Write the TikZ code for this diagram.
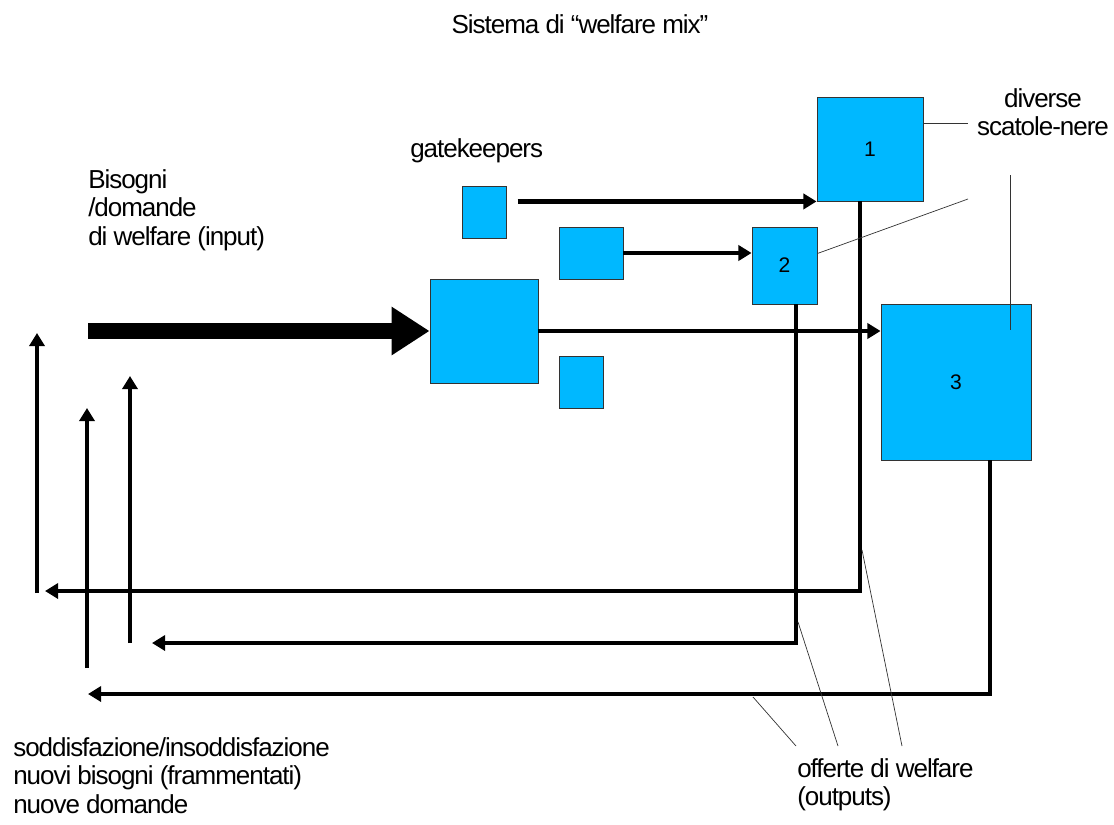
\documentclass[tikz,border=0pt]{standalone}
\usepackage{fontspec}
\setmainfont{Liberation Sans}[LetterSpace=-4.0]
\usetikzlibrary{arrows.meta}
\definecolor{boxblue}{RGB}{0,184,255}
\definecolor{edge}{RGB}{51,51,51}

\begin{document}
\begin{tikzpicture}[x=0.025cm, y=-0.025cm,
    box/.style={draw=edge, line width=0.6pt, fill=boxblue, inner sep=0pt, font=\fontsize{15pt}{17pt}\selectfont},
    lbl/.style={inner sep=0pt, font=\fontsize{18.5pt}{20.5pt}\selectfont},
    flow/.style={line width=3pt, -{Triangle[length=0.33cm, width=0.38cm]}},
    leader/.style={line width=0.5pt, edge}]
    \useasboundingbox (0,0) rectangle (1114,824);

    % titolo
    \node[lbl, anchor=base] (title) at (580,33) {Sistema di “welfare mix”};

    % scatole
    \node[box, minimum width=2.7cm, minimum height=2.6cm] (bigbox) at (484,331) {};
    \node[box, minimum width=1.1cm, minimum height=1.3cm] (g1) at (484,212) {};
    \node[box, minimum width=1.6cm, minimum height=1.3cm] (g2) at (591,253) {};
    \node[box, minimum width=1.1cm, minimum height=1.3cm] (g3) at (581,382) {};
    \node[box, minimum width=2.65cm, minimum height=2.6cm] (box1) at (870,149) {1};
    \node[box, minimum width=1.625cm, minimum height=1.925cm] (box2) at (784.5,265.5) {2};
    \node[box, minimum width=3.75cm, minimum height=3.9cm] (box3) at (956,382) {3};

    % etichette
    \node[lbl, anchor=base west] (gate) at (410,157) {gatekeepers};
    \node[lbl, anchor=north west, align=left] (needs) at (88,169) {Bisogni\\/domande\\di welfare (input)};
    \node[lbl, anchor=north, align=center] (boxes) at (1043,88) {diverse\\scatole-nere};
    \node[lbl, anchor=north west, align=left] (answers) at (13,737) {soddisfazione/insoddisfazione\\nuovi bisogni (frammentati)\\nuove domande};
    \node[lbl, anchor=north west, align=left] (offers) at (797,758) {offerte di welfare\\(outputs)};

    % input
    \coordinate (in) at (88,331);
    \draw[line width=11pt, -{Triangle[length=0.95cm, width=1.15cm]}] (in) -- (bigbox.west);

    % flussi verso le scatole
    \draw[flow] ([xshift=0.28cm]g1.east |- box1.south west) -- (box1.south west);
    \draw[flow] (g2.east) -- (g2.east -| box2.west);
    \draw[flow] (bigbox.east) -- (bigbox.east -| box3.west);

    % ritorni
    \coordinate (o1) at (860,591);
    \coordinate (r1) at (45,591);
    \coordinate (o2) at (796,643);
    \coordinate (r2) at (152,643);
    \coordinate (o3) at (990,694);
    \coordinate (r3) at (88,694);
    \draw[flow] (o1 |- box1.south) -- (o1) -- (r1);
    \draw[flow] (o2 |- box2.south) -- (o2) -- (r2);
    \draw[flow] (o3 |- box3.south) -- (o3) -- (r3);

    % frecce verso l'alto
    \coordinate (u1) at (37,593);
    \coordinate (v1) at (37,333);
    \coordinate (u2) at (87,668);
    \coordinate (v2) at (87,408);
    \coordinate (u3) at (130,643);
    \coordinate (v3) at (130,376);
    \draw[flow] (u1) -- (v1);
    \draw[flow] (u2) -- (v2);
    \draw[flow] (u3) -- (v3);

    % linee di richiamo
    \coordinate (s1) at (968,123);
    \coordinate (s2) at (968,199);
    \coordinate (s3) at (1010,175);
    \coordinate (s4) at (1010,330);
    \draw[leader] (s1 -| box1.east) -- (s1);
    \draw[leader] ([yshift=0.3cm]box2.east) -- (s2);
    \draw[leader] (s3) -- (s4);

    \coordinate (p1) at (753,697);
    \coordinate (p2) at (798,622);
    \coordinate (p3) at (862,550);
    \coordinate (t1) at (796,746);
    \coordinate (t2) at (838,746);
    \coordinate (t3) at (902,746);
    \draw[leader] (p1) -- (t1);
    \draw[leader] (p2) -- (t2);
    \draw[leader] (p3) -- (t3);
\end{tikzpicture}
\end{document}
